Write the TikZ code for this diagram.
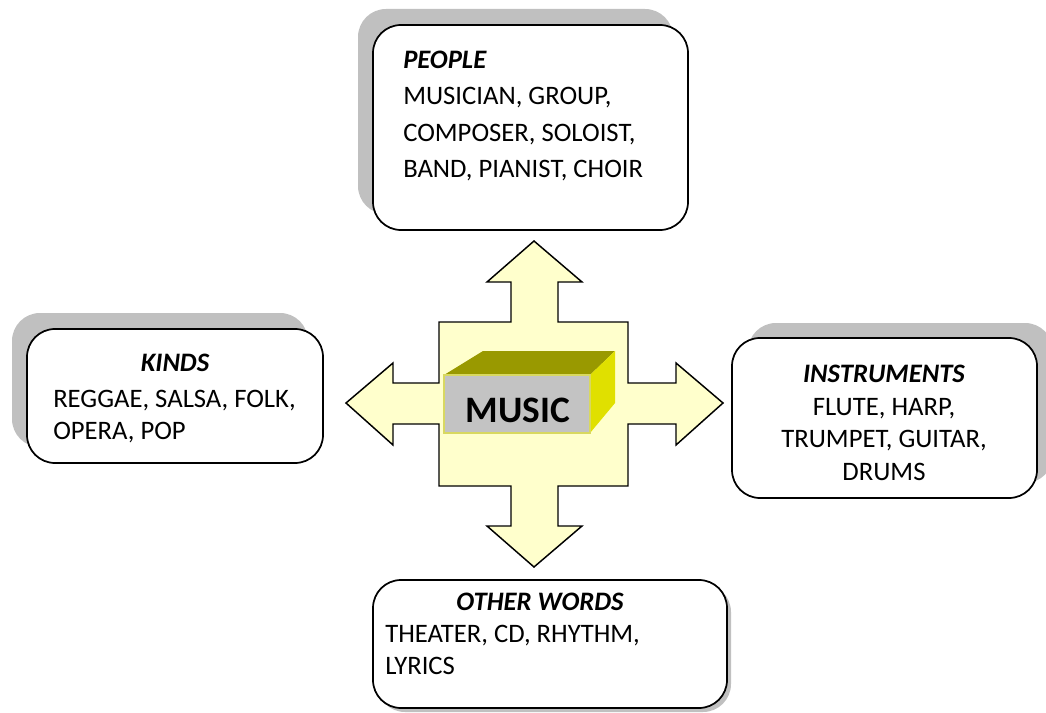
\documentclass[tikz,border=0pt]{standalone}
\usepackage{fontspec}
\setmainfont{Carlito}
\definecolor{shadowgray}{HTML}{C0C0C0}
\definecolor{crossfill}{HTML}{FFFFCC}
\definecolor{cubetop}{HTML}{999900}
\definecolor{cuberight}{HTML}{E0E000}
\definecolor{cubefront}{HTML}{C3C3C3}
\definecolor{cubeedge}{HTML}{D8D860}
\begin{document}
\begin{tikzpicture}[x=0.75pt,y=-0.75pt,
  boxline/.style={draw=black,line width=1.3pt,fill=white,rounded corners=21pt},
  shadowfill/.style={fill=shadowgray,rounded corners=21pt},
  txt/.style={font=\fontsize{20}{27}\selectfont,inner sep=0pt},
  ttl/.style={font=\fontsize{20}{27}\selectfont\bfseries\itshape,inner sep=0pt},
]
\useasboundingbox (0,0) rectangle (1046,713);
\fill[white] (0,0) rectangle (1046,713);

% ---------- PEOPLE ----------
\path[shadowfill] (358,9) rectangle (673,214);
\path[boxline] (373,25) rectangle (688,230);
\node[ttl,anchor=base west] (pt) at (403,69) {PEOPLE};
\node[txt,anchor=base west] (p1) at (403,105) {MUSICIAN, GROUP,};
\node[txt,anchor=base west] (p2) at (403,142) {COMPOSER, SOLOIST,};
\node[txt,anchor=base west] (p3) at (403,178) {BAND, PIANIST, CHOIR};

% ---------- KINDS ----------
\path[shadowfill] (12,313) rectangle (308,447);
\path[boxline] (27,329) rectangle (323,463);
\node[ttl,anchor=base] (kt) at (175,371) {KINDS};
\node[txt,anchor=base west] (k1) at (53,407) {REGGAE, SALSA, FOLK,};
\node[txt,anchor=base west] (k2) at (53,439) {OPERA, POP};

% ---------- INSTRUMENTS ----------
\path[shadowfill] (748,323) rectangle (1053,483);
\path[boxline] (732,338) rectangle (1037,498);
\node[ttl,anchor=base] (it) at (884,382) {INSTRUMENTS};
\node[txt,anchor=base] (i1) at (884,415) {FLUTE, HARP,};
\node[txt,anchor=base] (i2) at (884,447) {TRUMPET, GUITAR,};
\node[txt,anchor=base] (i3) at (884,480) {DRUMS};

% ---------- OTHER WORDS ----------
\path[shadowfill] (377,584) rectangle (731,712);
\path[boxline] (373,580) rectangle (727,708);
\node[ttl,anchor=base] (ot) at (540,610) {OTHER WORDS};
\node[txt,anchor=base west] (o1) at (385,642) {THEATER, CD, RHYTHM,};
\node[txt,anchor=base west] (o2) at (385,674) {LYRICS};

% ---------- central cross ----------
\draw[fill=crossfill,line width=1.1pt,line join=miter]
  (534,241) -- (582,282) -- (558,282) -- (558,322) -- (628,322) -- (628,383)
  -- (676,383) -- (676,363) -- (723,403) -- (676,445) -- (676,424) -- (628,424)
  -- (628,486) -- (558,486) -- (558,526) -- (582,526) -- (534,567) -- (487,526)
  -- (511,526) -- (511,486) -- (439,486) -- (439,424) -- (393,424) -- (393,445)
  -- (346,403) -- (393,363) -- (393,383) -- (439,383) -- (439,322) -- (511,322)
  -- (511,282) -- (487,282) -- cycle;

% ---------- cube ----------
\fill[cubetop] (444,375) -- (483,351) -- (615,351) -- (590,375) -- cycle;
\fill[cuberight] (590,375) -- (615,351) -- (615,403) -- (590,433) -- cycle;
\filldraw[fill=cubefront,draw=cubeedge,line width=0.8pt] (444,375) rectangle (590,433);
\node[font=\fontsize{28}{34}\selectfont\bfseries,inner sep=0pt,anchor=base] (music) at (518,422) {MUSIC};
\end{tikzpicture}
\end{document}
